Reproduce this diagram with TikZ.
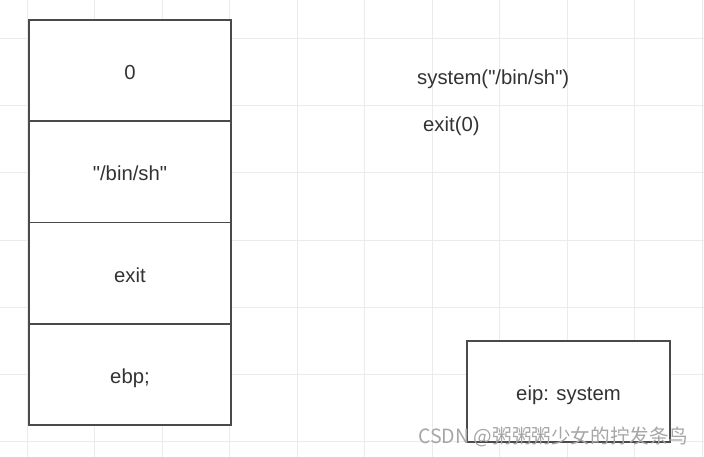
\documentclass[tikz,border=0pt]{standalone}
\usepackage{fontspec}
\setmainfont{Liberation Sans}
\newfontfamily\cjk{Noto Sans CJK SC}
\definecolor{gridc}{HTML}{EBEBEB}
\definecolor{boxline}{HTML}{4A4A4A}
\definecolor{txt}{HTML}{333333}
\begin{document}
\begin{tikzpicture}[x=1pt,y=-1pt,
  cell/.style={draw=boxline,line width=1.5pt,minimum width=202pt,minimum height=101.25pt,inner sep=0pt,fill=white,text=txt,text height=18pt,text depth=0pt,font=\fontsize{20.3}{23}\selectfont},
  txtlabel/.style={text=txt,font=\fontsize{20.3}{23}\selectfont,inner sep=0pt,anchor=west},
  wmark/.style={text=gray!70,font=\fontsize{19.6}{22}\selectfont\cjk,inner sep=0pt,anchor=west}]
\useasboundingbox (0,0) rectangle (704,457);
\fill[white] (0,0) rectangle (704,457);
% grid
\foreach \gx in {27,94.5,162,229.5,297,364.5,432,499.5,567,634.5,702}
  \draw[gridc,line width=1pt] (\gx,0) -- (\gx,457);
\foreach \gy in {38.5,105.7,172.9,240.1,307.3,374.5,441.7}
  \draw[gridc,line width=1pt] (0,\gy) -- (704,\gy);
% stack
\node[cell] (c0) at (130,70.6) {0};
\node[cell] (c1) at (130,171.9) {\textquotedbl/bin/sh\textquotedbl};
\node[cell] (c2) at (130,273.1) {exit};
\node[cell] (c3) at (130,374.4) {ebp;};
% eip
\node[cell,minimum width=203pt,minimum height=101pt] (eip) at (568.5,391.5) {eip: system};
% labels
\node[txtlabel] (sys) at (417,79.5) {system(\textquotedbl/bin/sh\textquotedbl)};
\node[txtlabel] (ex) at (423,126) {exit(0)};
% watermark
\node[wmark] (wm) at (418,437) {CSDN @粥粥粥少女的拧发条鸟};
\end{tikzpicture}
\end{document}
